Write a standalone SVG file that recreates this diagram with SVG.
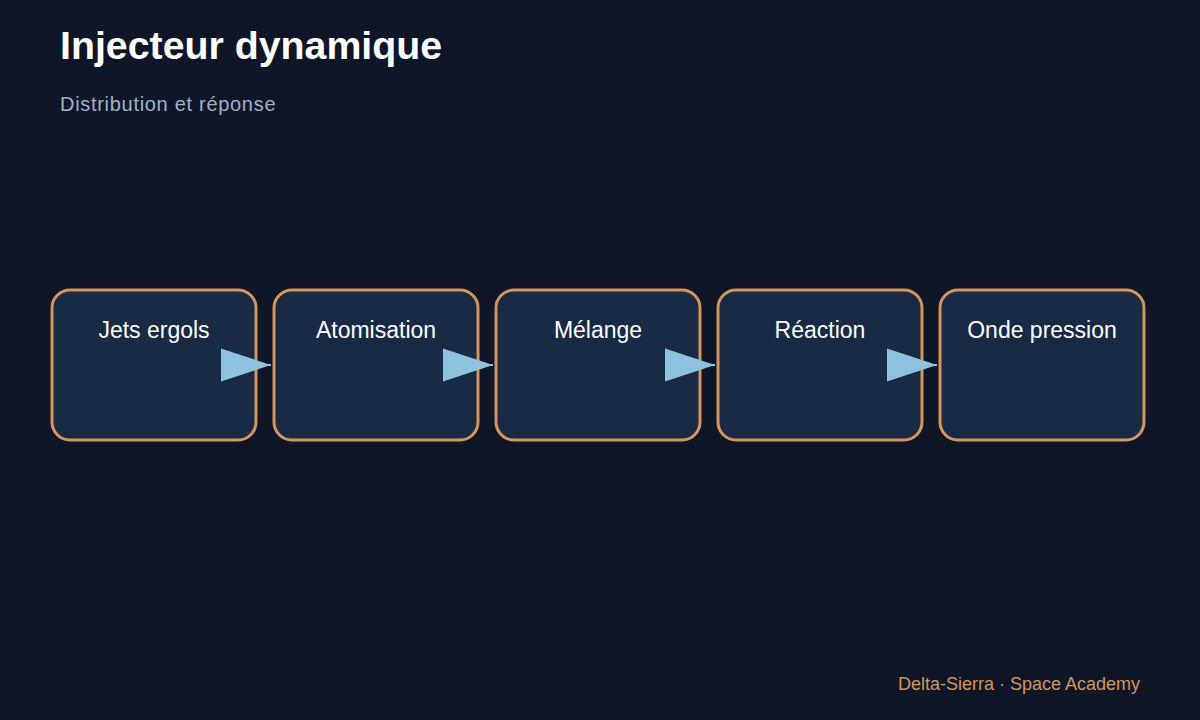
<svg xmlns="http://www.w3.org/2000/svg" width="1200" height="720" viewBox="0 0 1200 720">
  <style>
    .bg { fill: #0e1627; }
    .title { font-family: "Liberation Sans", Arial, sans-serif; font-size: 39.3px; font-weight: bold; fill: #ffffff; }
    .subtitle { font-family: "Liberation Sans", Arial, sans-serif; font-size: 20px; letter-spacing: 0.7px; fill: #9fb3c8; }
    .footer { font-family: "Liberation Sans", Arial, sans-serif; font-size: 18px; fill: #d4965a; text-anchor: end; }
    .box { fill: #182a44; stroke: #d4965e; stroke-width: 3; }
    .label { font-family: "Liberation Sans", Arial, sans-serif; font-size: 23px; fill: #ffffff; text-anchor: middle; }
    .edge { stroke: #8ec3e0; stroke-width: 2; fill: none; marker-end: url(#arrow); }
  </style>
  <defs>
    <marker id="arrow" markerUnits="userSpaceOnUse" markerWidth="50" markerHeight="34" refX="50" refY="16.5" orient="auto" viewBox="0 0 50 33">
      <polygon points="0,0 50,16.5 0,33" fill="#8ec3e0"/>
    </marker>
  </defs>
  <rect class="bg" x="0" y="0" width="1200" height="720"/>
  <text class="title" x="60" y="59">Injecteur dynamique</text>
  <text class="subtitle" x="60" y="111">Distribution et réponse</text>

  <g id="node-jets">
    <rect class="box" x="52" y="290" width="204" height="150" rx="18"/>
    <text class="label" x="154" y="338">Jets ergols</text>
  </g>
  <g id="node-atomisation">
    <rect class="box" x="274" y="290" width="204" height="150" rx="18"/>
    <text class="label" x="376" y="338">Atomisation</text>
  </g>
  <g id="node-melange">
    <rect class="box" x="496" y="290" width="204" height="150" rx="18"/>
    <text class="label" x="598" y="338">Mélange</text>
  </g>
  <g id="node-reaction">
    <rect class="box" x="718" y="290" width="204" height="150" rx="18"/>
    <text class="label" x="820" y="338">Réaction</text>
  </g>
  <g id="node-onde">
    <rect class="box" x="940" y="290" width="204" height="150" rx="18"/>
    <text class="label" x="1042" y="338">Onde pression</text>
  </g>

  <g id="connectors">
    <path class="edge" d="M250,365 L271,365"/>
    <path class="edge" d="M472,365 L493,365"/>
    <path class="edge" d="M694,365 L715,365"/>
    <path class="edge" d="M916,365 L937,365"/>
  </g>

  <text class="footer" x="1140" y="690">Delta-Sierra · Space Academy</text>
</svg>
